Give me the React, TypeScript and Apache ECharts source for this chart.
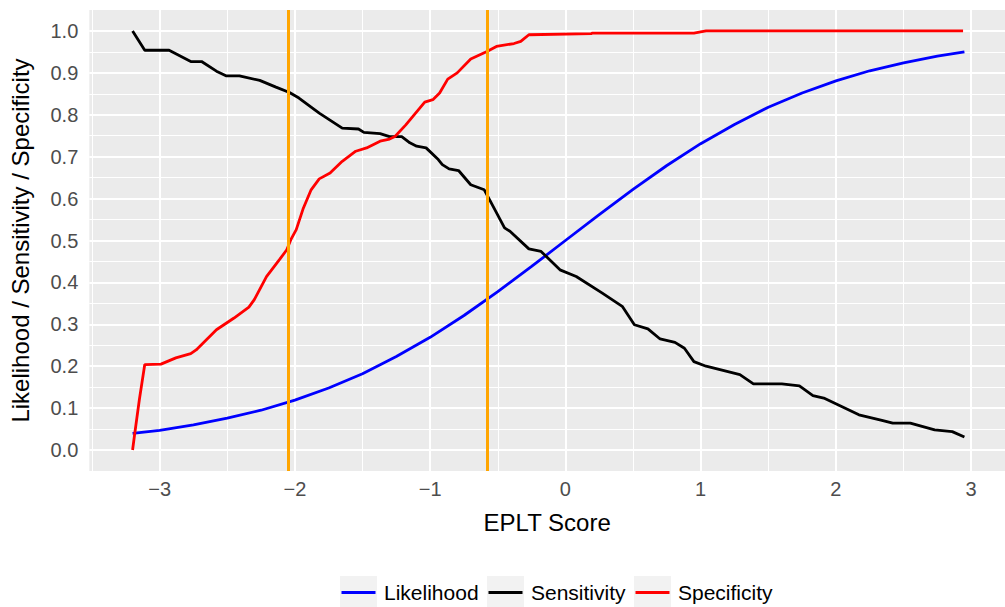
import React, { useEffect, useRef } from "react";
import * as echarts from "echarts";

const FONT = "'Liberation Sans', Arial, sans-serif";

const xTicks = [-3, -2, -1, 0, 1, 2, 3];
const xMinor = [-3.5, -2.5, -1.5, -0.5, 0.5, 1.5, 2.5];
const yTicks = [0, 0.1, 0.2, 0.3, 0.4, 0.5, 0.6, 0.7, 0.8, 0.9, 1.0];
const yMinor = [0.05, 0.15, 0.25, 0.35, 0.45, 0.55, 0.65, 0.75, 0.85, 0.95];

const cutoffs = [-2.054, -0.576];

const likelihood: [number, number][] = [
  [-3.2, 0.04], [-3.0, 0.047], [-2.75, 0.06], [-2.5, 0.076], [-2.25, 0.095],
  [-2.0, 0.119], [-1.75, 0.148], [-1.5, 0.182], [-1.25, 0.223], [-1.0, 0.269],
  [-0.75, 0.321], [-0.5, 0.378], [-0.25, 0.438], [0.0, 0.5], [0.25, 0.562],
  [0.5, 0.622], [0.75, 0.679], [1.0, 0.731], [1.25, 0.777], [1.5, 0.818],
  [1.75, 0.852], [2.0, 0.881], [2.25, 0.905], [2.5, 0.924], [2.75, 0.94],
  [2.95, 0.95],
];

const sensitivity: [number, number][] = [
  [-3.2, 1.0], [-3.11, 0.954], [-2.93, 0.954], [-2.77, 0.927], [-2.69, 0.927],
  [-2.58, 0.904], [-2.51, 0.893], [-2.41, 0.893], [-2.26, 0.882], [-2.14, 0.866],
  [-2.04, 0.853], [-1.97, 0.84], [-1.82, 0.804], [-1.65, 0.768], [-1.53, 0.766],
  [-1.49, 0.758], [-1.37, 0.755], [-1.3, 0.748], [-1.21, 0.748], [-1.15, 0.733],
  [-1.1, 0.725], [-1.03, 0.721], [-0.94, 0.693], [-0.91, 0.681], [-0.86, 0.671],
  [-0.79, 0.667], [-0.7, 0.633], [-0.6, 0.621], [-0.56, 0.597], [-0.45, 0.53],
  [-0.41, 0.522], [-0.27, 0.48], [-0.18, 0.474], [-0.04, 0.43], [0.08, 0.414],
  [0.27, 0.375], [0.42, 0.343], [0.51, 0.299], [0.61, 0.289], [0.7, 0.265],
  [0.81, 0.257], [0.88, 0.243], [0.95, 0.211], [1.04, 0.2], [1.29, 0.18],
  [1.39, 0.158], [1.6, 0.158], [1.73, 0.153], [1.83, 0.13], [1.91, 0.124],
  [2.17, 0.084], [2.34, 0.071], [2.42, 0.064], [2.55, 0.064], [2.73, 0.048],
  [2.86, 0.044], [2.95, 0.031],
];

const specificity: [number, number][] = [
  [-3.2, 0.0], [-3.185, 0.037], [-3.15, 0.12], [-3.11, 0.204], [-2.99, 0.205],
  [-2.88, 0.22], [-2.77, 0.23], [-2.73, 0.239], [-2.58, 0.287], [-2.45, 0.315],
  [-2.34, 0.341], [-2.3, 0.359], [-2.21, 0.414], [-2.11, 0.456], [-2.06, 0.478],
  [-2.03, 0.502], [-1.99, 0.526], [-1.94, 0.575], [-1.88, 0.621], [-1.82, 0.647],
  [-1.74, 0.661], [-1.65, 0.689], [-1.55, 0.713], [-1.47, 0.721], [-1.37, 0.737],
  [-1.3, 0.742], [-1.26, 0.748], [-1.18, 0.776], [-1.04, 0.83], [-0.98, 0.836],
  [-0.93, 0.852], [-0.87, 0.885], [-0.8, 0.9], [-0.7, 0.933], [-0.58, 0.951],
  [-0.51, 0.963], [-0.38, 0.97], [-0.33, 0.975], [-0.27, 0.991], [0.19, 0.9935],
  [0.2, 0.995], [0.95, 0.995], [1.04, 1.0], [2.94, 1.0],
];

const seriesNames = ["Likelihood", "Sensitivity", "Specificity"];
const seriesColors = ["#0000FF", "#000000", "#FF0000"];

const GRID_LEFT = 89.3;
const GRID_TOP = 10;
const GRID_W = 916;
const GRID_H = 461;

// legend layout (bottom, centred)
const LEG_LEFT = 340;
const LEG_TOP = 576;
const KEY_W = 37;
const KEY_H = 31;
const LEG_PITCH = 147;
const LEG_TEXT_GAP = 7;
const LEG_LINE_Y = 592.5;

const minus = (v: number) => (v < 0 ? "\u2212" + Math.abs(v) : String(v));

export default function App() {
  const ref = useRef<HTMLDivElement>(null);
  useEffect(() => {
    if (!ref.current) return;
    const chart = echarts.init(ref.current, undefined, { renderer: "svg" });

    const gridLine = (vals: number[], axis: "xAxis" | "yAxis", width: number) =>
      vals.map((v) => ({
        [axis]: v,
        lineStyle: { color: "#FFFFFF", width, type: "solid" },
      }));

    const legendGraphics = seriesNames.flatMap((name, i) => {
      const x0 = LEG_LEFT + i * LEG_PITCH;
      return [
        {
          type: "rect",
          silent: true,
          shape: { x: x0, y: LEG_TOP, width: KEY_W, height: KEY_H },
          style: { fill: "#F2F2F2" },
        },
        {
          type: "line",
          silent: true,
          shape: { x1: x0 + 1.5, y1: LEG_LINE_Y, x2: x0 + KEY_W - 1.5, y2: LEG_LINE_Y },
          style: { stroke: seriesColors[i], lineWidth: 2.8 },
        },
        {
          type: "text",
          silent: true,
          x: x0 + KEY_W + LEG_TEXT_GAP,
          y: LEG_LINE_Y,
          style: {
            text: name,
            fontFamily: FONT,
            fontSize: 21,
            fill: "#000000",
            verticalAlign: "middle",
            align: "left",
          },
        },
      ];
    });

    chart.setOption({
      animation: false,
      backgroundColor: "#FFFFFF",
      grid: {
        left: GRID_LEFT,
        top: GRID_TOP,
        width: GRID_W,
        height: GRID_H,
        show: true,
        backgroundColor: "#EBEBEB",
        borderWidth: 0,
      },
      xAxis: {
        type: "value",
        min: -3.52,
        max: 3.25,
        name: "EPLT Score",
        nameLocation: "middle",
        nameGap: 39,
        nameTextStyle: { fontFamily: FONT, fontSize: 24, color: "#000000" },
        axisLine: { show: false },
        splitLine: { show: false },
        axisTick: {
          show: true,
          length: 7,
          customValues: xTicks,
          lineStyle: { color: "#333333", width: 2 },
        },
        axisLabel: {
          customValues: xTicks,
          formatter: (v: number) => minus(v),
          fontFamily: FONT,
          fontSize: 20,
          color: "#4D4D4D",
          margin: 8,
        },
      },
      yAxis: {
        type: "value",
        min: -0.05,
        max: 1.05,
        name: "Likelihood / Sensitivity / Specificity",
        nameLocation: "middle",
        nameGap: 57,
        nameTextStyle: { fontFamily: FONT, fontSize: 24, color: "#000000" },
        axisLine: { show: false },
        splitLine: { show: false },
        axisTick: {
          show: true,
          length: 7,
          customValues: yTicks,
          lineStyle: { color: "#333333", width: 2 },
        },
        axisLabel: {
          customValues: yTicks,
          formatter: (v: number) => v.toFixed(1),
          fontFamily: FONT,
          fontSize: 20,
          color: "#4D4D4D",
          margin: 11,
        },
      },
      graphic: legendGraphics,
      series: [
        {
          name: "gridlines",
          type: "line",
          data: [],
          z: 1,
          silent: true,
          markLine: {
            z: 1,
            silent: true,
            symbol: ["none", "none"],
            label: { show: false },
            emphasis: { disabled: true },
            animation: false,
            data: [
              ...gridLine(xMinor, "xAxis", 1),
              ...gridLine(yMinor, "yAxis", 1),
              ...gridLine(xTicks, "xAxis", 2),
              ...gridLine(yTicks, "yAxis", 2),
            ],
          },
        },
        ...[likelihood, sensitivity, specificity].map((d, i) => ({
          name: seriesNames[i],
          type: "line",
          data: d,
          z: 3,
          symbol: "none",
          showSymbol: false,
          silent: true,
          color: seriesColors[i],
          lineStyle: { color: seriesColors[i], width: 2.8 },
        })),
        {
          name: "cutoffs",
          type: "line",
          data: [],
          z: 5,
          silent: true,
          markLine: {
            z: 6,
            silent: true,
            symbol: ["none", "none"],
            label: { show: false },
            emphasis: { disabled: true },
            animation: false,
            data: cutoffs.map((v) => ({
              xAxis: v,
              lineStyle: { color: "#FFA500", width: 3, type: "solid" },
            })),
          },
        },
      ],
    });
    return () => chart.dispose();
  }, []);

  return (
    <div
      ref={ref}
      style={{ position: "fixed", left: 0, top: 0, width: 1005, height: 607, background: "#fff" }}
    />
  );
}
